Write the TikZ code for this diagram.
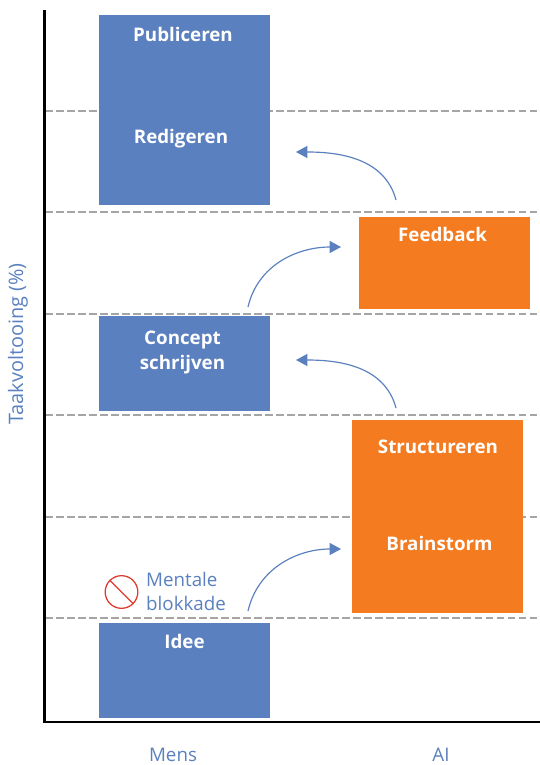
\documentclass[tikz,border=0pt]{standalone}
\usepackage{fontspec}
\setmainfont{Open Sans}
\usetikzlibrary{arrows.meta,positioning}
\definecolor{taakblue}{RGB}{90,128,191}
\definecolor{taakorange}{RGB}{244,123,32}
\definecolor{taakgray}{RGB}{165,165,165}
\definecolor{taakred}{RGB}{226,60,45}
\tikzstyle{arrow} = [line width=1pt,-{Triangle[length=3.4mm,width=3.6mm]},color=taakblue]
\tikzstyle{gridline} = [line width=1.2pt,dash pattern=on 6.6pt off 2.8pt,color=taakgray]
\tikzstyle{mensbox} = [rectangle, minimum width=5.13cm, fill=taakblue, inner sep=0pt]
\tikzstyle{aibox} = [rectangle, minimum width=5.13cm, fill=taakorange, inner sep=0pt]
\tikzstyle{boxlabel} = [text=white, font=\fontsize{16}{21.3}\selectfont\bfseries, align=center, inner sep=0pt]
\tikzstyle{axislabel} = [text=taakblue, font=\fontsize{16}{20.5}\selectfont, inner sep=0pt]

\begin{document}
\begin{tikzpicture}[x=0.03cm,y=0.03cm]
\useasboundingbox (0,0) rectangle (540,-765);

% Dashed levels
\foreach \y/\name in {111/a,212/b,314/c,415/d,517/e,618/f} {
  \coordinate (left\name) at (45,-\y);
  \coordinate (right\name) at (540,-\y);
  \draw[gridline] (left\name) -- (right\name);
}

% Axes
\coordinate (axistop) at (44.5,-10);
\coordinate (origin) at (44.5,-722);
\coordinate (axisend) at (540,-722);
\draw[line width=2.3pt, black] (axistop) -- (origin) -- (axisend);

% Human blocks
\node (publish) [mensbox, minimum height=5.7cm] at (184.5,-110) {};
\node (concept) [mensbox, minimum height=2.85cm] at (184.5,-363.5) {};
\node (idee) [mensbox, minimum height=2.85cm] at (184.5,-670.5) {};

% AI blocks
\node (feedback) [aibox, minimum height=2.76cm] at (444.5,-263) {};
\node (structure) [aibox, minimum height=5.79cm] at (437.5,-516.5) {};

% Block labels
\node (publiceren) [boxlabel] at (183,-34) {Publiceren};
\node (redigeren) [boxlabel] at (181,-139) {Redigeren};
\node (conceptlabel) [boxlabel] at (182.5,-352) {Concept\\schrijven};
\node (ideelabel) [boxlabel] at (184.5,-641) {Idee};
\node (feedbacklabel) [boxlabel] at (442.5,-234) {Feedback};
\node (structureren) [boxlabel] at (438,-447) {Structureren};
\node (brainstorm) [boxlabel] at (439.5,-543) {Brainstorm};

% Axis labels
\node (mens) [axislabel] at (173,-755) {Mens};
\node (ai) [axislabel] at (441,-755) {AI};
\node (taak) [axislabel, font=\fontsize{17}{20}\selectfont, rotate=90] at (18,-344) {Taakvoltooing (\%)};

% Blockade
\node (stop) [circle, draw=taakred, line width=1.1pt, minimum size=0.98cm, inner sep=0pt] at (121.5,-592) {};
\draw[line width=1.1pt, taakred] (stop.135) -- (stop.-45);
\node (blokkade) [axislabel, align=left, anchor=west] at (146,-591.5) {Mentale\\blokkade};

% Connections
\coordinate (from1) at (248,-611);
\coordinate (to1) at (341,-549);
\coordinate (from2) at (396,-408);
\coordinate (to2) at (296,-360);
\coordinate (from3) at (248,-307);
\coordinate (to3) at (341,-247);
\coordinate (from4) at (396,-200);
\coordinate (to4) at (296,-152);
\draw[arrow] (from1) to[out=77,in=180] (to1);
\draw[arrow] (from2) to[out=105,in=0] (to2);
\draw[arrow] (from3) to[out=77,in=180] (to3);
\draw[arrow] (from4) to[out=105,in=0] (to4);
\end{tikzpicture}
\end{document}
